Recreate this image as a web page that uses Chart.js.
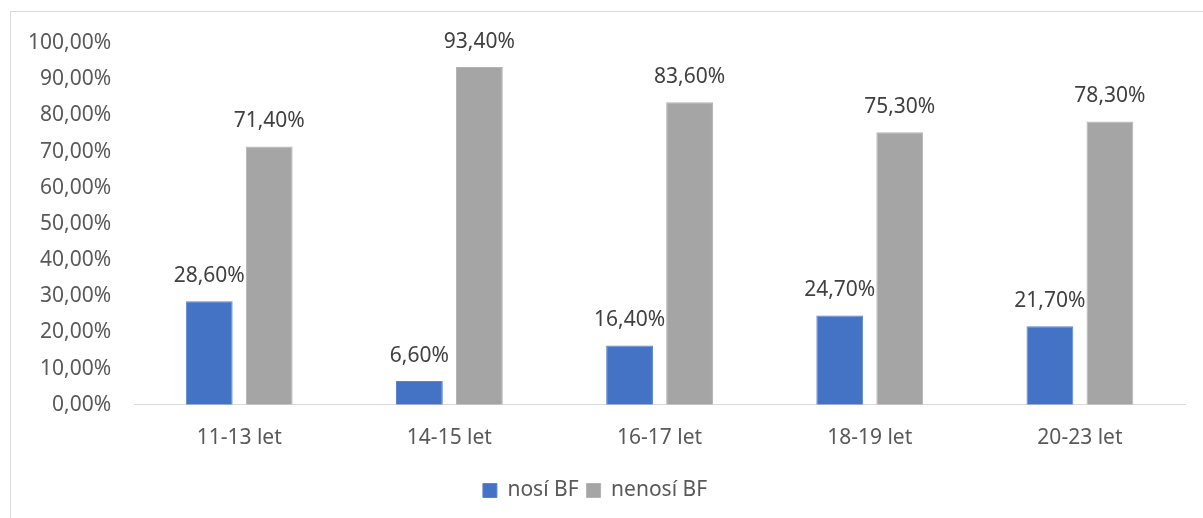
<!DOCTYPE html>
<html>
<head>
<meta charset="utf-8">
<script src="https://cdn.jsdelivr.net/npm/chart.js@4.4.1/dist/chart.umd.min.js"></script>
<style>
  html, body { margin: 0; padding: 0; background: #fff; overflow: hidden; }
  #frame { position: absolute; left: 10px; top: 11px; width: 1260px; height: 600px;
           border: 1px solid #D9D9D9; box-sizing: border-box; }
  #wrap { position: absolute; left: 0; top: 0; width: 1203px; height: 518px; }
</style>
</head>
<body>
<div id="frame"></div>
<div id="wrap"><canvas id="c" width="1203" height="518"></canvas></div>
<script>
const categories = ['11-13 let', '14-15 let', '16-17 let', '18-19 let', '20-23 let'];
const nosiBF = [28.6, 6.6, 16.4, 24.7, 21.7];
const nenosiBF = [71.4, 93.4, 83.6, 75.3, 78.3];
const yTicks = [0, 10, 20, 30, 40, 50, 60, 70, 80, 90, 100];

const FONT = 'Noto Sans';
const SIZE = 21;
const TEXT = '#595959';
const pct = v => v.toFixed(2).replace('.', ',') + '%';

// value labels drawn above each bar
const barLabels = {
  id: 'barLabels',
  afterDatasetsDraw(chart) {
    const ctx = chart.ctx;
    ctx.save();
    ctx.font = SIZE + 'px "' + FONT + '"';
    ctx.fillStyle = '#404040';
    ctx.textAlign = 'center';
    ctx.textBaseline = 'middle';
    chart.data.datasets.forEach((ds, i) => {
      chart.getDatasetMeta(i).data.forEach((el, j) => {
        ctx.fillText(pct(ds.data[j]), el.x, el.y - 25);
      });
    });
    ctx.restore();
  }
};

new Chart(document.getElementById('c'), {
  type: 'bar',
  data: {
    labels: categories,
    datasets: [
      { label: 'nosí BF', data: nosiBF, backgroundColor: '#4472C4', borderColor: '#5B84CC', borderWidth: 1 },
      { label: 'nenosí BF', data: nenosiBF, backgroundColor: '#A5A5A5', borderColor: '#B4B4B4', borderWidth: 1 }
    ]
  },
  options: {
    responsive: false,
    animation: false,
    datasets: { bar: { categoryPercentage: 0.571, barPercentage: 0.78 } },
    layout: { padding: { left: 5, right: 18, top: 43, bottom: 7 } },
    scales: {
      x: {
        grid: { display: false, drawTicks: false },
        border: { display: true, color: '#D9D9D9', width: 1 },
        ticks: { color: TEXT, font: { family: FONT, size: SIZE }, padding: 21 }
      },
      y: {
        min: 0, max: 100,
        afterBuildTicks(scale) { scale.ticks = yTicks.map(v => ({ value: v })); },
        grid: { display: false, drawTicks: false },
        border: { display: false },
        ticks: { color: TEXT, font: { family: FONT, size: SIZE }, padding: 23, callback: v => pct(v) }
      }
    },
    plugins: {
      legend: {
        position: 'bottom',
        labels: { color: TEXT, font: { family: FONT, size: SIZE }, boxWidth: 14, boxHeight: 14, padding: 8 }
      },
      tooltip: { enabled: false }
    }
  },
  plugins: [barLabels]
});
</script>
</body>
</html>
